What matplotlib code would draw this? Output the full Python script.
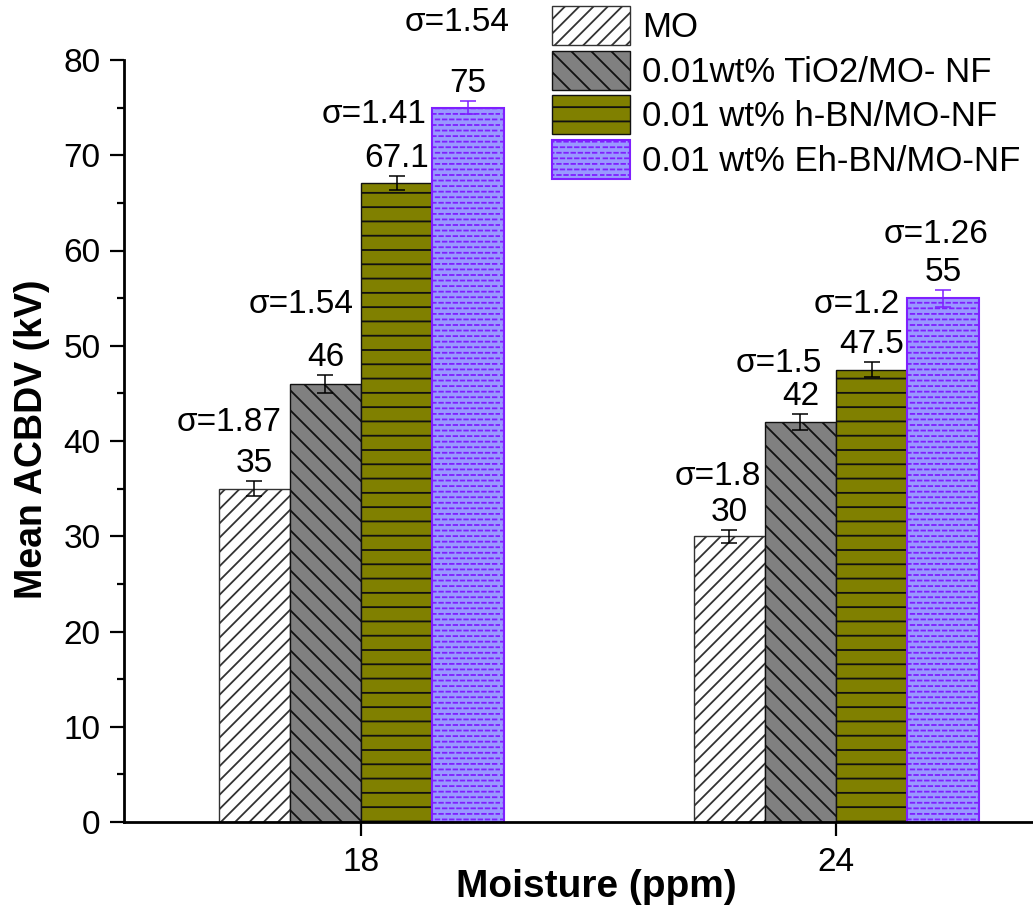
import numpy as np
import matplotlib
matplotlib.use('Agg')
import matplotlib.pyplot as plt
import matplotlib.hatch as mhatch
from matplotlib.path import Path
from matplotlib.ticker import MultipleLocator, FixedLocator

# ---------------- data ----------------
categories = ['18', '24']
series_names = ['MO', '0.01wt% TiO2/MO- NF', '0.01 wt% h-BN/MO-NF', '0.01 wt% Eh-BN/MO-NF']
mo_values = [35, 30]
tio2_values = [46, 42]
hbn_values = [67.1, 47.5]
ehbn_values = [75, 55]
mo_err = [0.8, 0.7]
tio2_err = [0.95, 0.8]
hbn_err = [0.7, 0.8]
ehbn_err = [0.7, 0.9]
mo_sigma = ['1.87', '1.8']
tio2_sigma = ['1.54', '1.5']
hbn_sigma = ['1.41', '1.2']
ehbn_sigma = ['1.54', '1.26']

# label layout (pixel offsets of sigma labels: dx, baseline above error top)
sigma_offsets_px = [
    [(-25, 50), (-11, 45)],
    [(-24, 62), (-22, 42)],
    [(-23, 53), (-15, 49)],
    [(-11, 70), (-7, 47)],
]

# ---------------- custom hatch patterns ----------------
class NEHatch(mhatch.HatchPatternBase):
    def __init__(self, hatch, density):
        self.num_lines = 14 * hatch.count('/')
        self.num_vertices = (self.num_lines + 1) * 2 if self.num_lines else 0

    def set_vertices_and_codes(self, vertices, codes):
        steps = np.linspace(-0.5, 0.5, self.num_lines + 1)
        vertices[0::2, 0] = 0.0 + steps
        vertices[0::2, 1] = 0.0 - steps
        vertices[1::2, 0] = 1.0 + steps
        vertices[1::2, 1] = 1.0 - steps
        codes[0::2] = Path.MOVETO
        codes[1::2] = Path.LINETO


class SEHatch(mhatch.HatchPatternBase):
    def __init__(self, hatch, density):
        self.num_lines = 10 * hatch.count('\\')
        self.num_vertices = (self.num_lines + 1) * 2 if self.num_lines else 0

    def set_vertices_and_codes(self, vertices, codes):
        steps = np.linspace(-0.5, 0.5, self.num_lines + 1)
        vertices[0::2, 0] = 0.0 + steps
        vertices[0::2, 1] = 1.0 + steps
        vertices[1::2, 0] = 1.0 + steps
        vertices[1::2, 1] = 0.0 + steps
        codes[0::2] = Path.MOVETO
        codes[1::2] = Path.LINETO


class HHatch(mhatch.HatchPatternBase):
    def __init__(self, hatch, density):
        self.num_lines = 7 * hatch.count('-')
        self.num_vertices = self.num_lines * 2

    def set_vertices_and_codes(self, vertices, codes):
        steps = (np.arange(self.num_lines) + 0.5) / self.num_lines
        vertices[0::2, 0] = 0.0
        vertices[0::2, 1] = steps
        vertices[1::2, 0] = 1.0
        vertices[1::2, 1] = steps
        codes[0::2] = Path.MOVETO
        codes[1::2] = Path.LINETO


class DashHatch(mhatch.HatchPatternBase):
    rows, per = 18, 14

    def __init__(self, hatch, density):
        self.on = '.' in hatch
        self.num_vertices = self.rows * self.per * 2 if self.on else 0

    def set_vertices_and_codes(self, vertices, codes):
        i = 0
        for r in range(self.rows):
            y = (r + 0.5) / self.rows
            off = 0.5 / self.per if r % 2 else 0.0
            for k in range(self.per):
                x0 = k / self.per + off
                vertices[i] = (x0, y)
                vertices[i + 1] = (x0 + 0.5 / self.per, y)
                codes[i] = Path.MOVETO
                codes[i + 1] = Path.LINETO
                i += 2


mhatch._hatch_types = [HHatch, NEHatch, SEHatch, DashHatch]

plt.rcParams['font.family'] = ['Liberation Sans', 'DejaVu Sans']
plt.rcParams['hatch.linewidth'] = 1.3

W, H = 1033, 917
fig = plt.figure(figsize=(W / 100, H / 100), dpi=100)
ax = fig.add_axes([124 / W, 1 - 822 / H, 1 - 124 / W, (822 - 60) / H])

x = np.arange(len(categories))
width = 0.15
offsets = [-1.5, -0.5, 0.5, 1.5]
all_values = [mo_values, tio2_values, hbn_values, ehbn_values]
all_err = [mo_err, tio2_err, hbn_err, ehbn_err]
all_sigma = [mo_sigma, tio2_sigma, hbn_sigma, ehbn_sigma]
purple = '#7f1fff'
styles = [
    dict(facecolor='white', edgecolor='#333333', hatch='/', linewidth=1.0),
    dict(facecolor='#808080', edgecolor='#111111', hatch='\\', linewidth=1.0),
    dict(facecolor='#808000', edgecolor='#111111', hatch='-', linewidth=1.0),
    dict(facecolor='#9999ff', edgecolor=purple, hatch='.', linewidth=1.5),
]
err_colors = ['black', 'black', 'black', purple]

handles = []
for s in range(4):
    xs = x + offsets[s] * width
    b = ax.bar(xs, all_values[s], width, label=series_names[s], zorder=2, **styles[s])
    handles.append(b)
    ax.errorbar(xs, all_values[s], yerr=all_err[s], fmt='none', ecolor=err_colors[s],
                elinewidth=1.1, capsize=5.5, capthick=1.1, zorder=3)
    for i in range(len(categories)):
        top = all_values[s][i] + all_err[s][i]
        ax.annotate(f'{all_values[s][i]:g}', xy=(xs[i], top), xytext=(0, 9),
                    textcoords='offset pixels', ha='center', va='baseline', fontsize=24)
        dx, dy = sigma_offsets_px[s][i]
        ax.annotate('σ=' + all_sigma[s][i], xy=(xs[i], top), xytext=(dx, dy),
                    textcoords='offset pixels', ha='center', va='baseline', fontsize=24)

ax.set_xlim(-237 / 475, (1033 - 361) / 475)
ax.set_ylim(0, 80)
ax.xaxis.set_major_locator(FixedLocator(x))
ax.set_xticklabels(categories)
ax.yaxis.set_major_locator(MultipleLocator(10))
ax.yaxis.set_minor_locator(MultipleLocator(5))

for side in ['top', 'right']:
    ax.spines[side].set_visible(False)
for side in ['left', 'bottom']:
    ax.spines[side].set_linewidth(2.0)

ax.tick_params(axis='both', which='major', length=10, width=1.6, labelsize=24, direction='out')
ax.tick_params(axis='y', which='minor', length=5, width=1.6, direction='out')
ax.tick_params(axis='y', which='major', pad=7)
ax.tick_params(axis='x', which='major', pad=8)

ax.set_xlabel('Moisture (ppm)', fontsize=28, fontweight='bold')
ax.set_ylabel('Mean ACBDV (kV)', fontsize=27, fontweight='bold')
ax.xaxis.set_label_coords((596 - 124) / (W - 124), -(869 - 822) / (822 - 60))
ax.yaxis.set_label_coords(-(124 - 50) / (W - 124), (822 - 439) / (822 - 60))

fig.legend(handles=handles, labels=series_names, loc='upper left',
           bbox_to_anchor=(552 / W, 1 - 6 / H), frameon=False, fontsize=25,
           borderpad=0, borderaxespad=0, handlelength=2.25, handleheight=1.35,
           handletextpad=0.35, labelspacing=0.16)

fig.savefig('out.png', dpi=100)
